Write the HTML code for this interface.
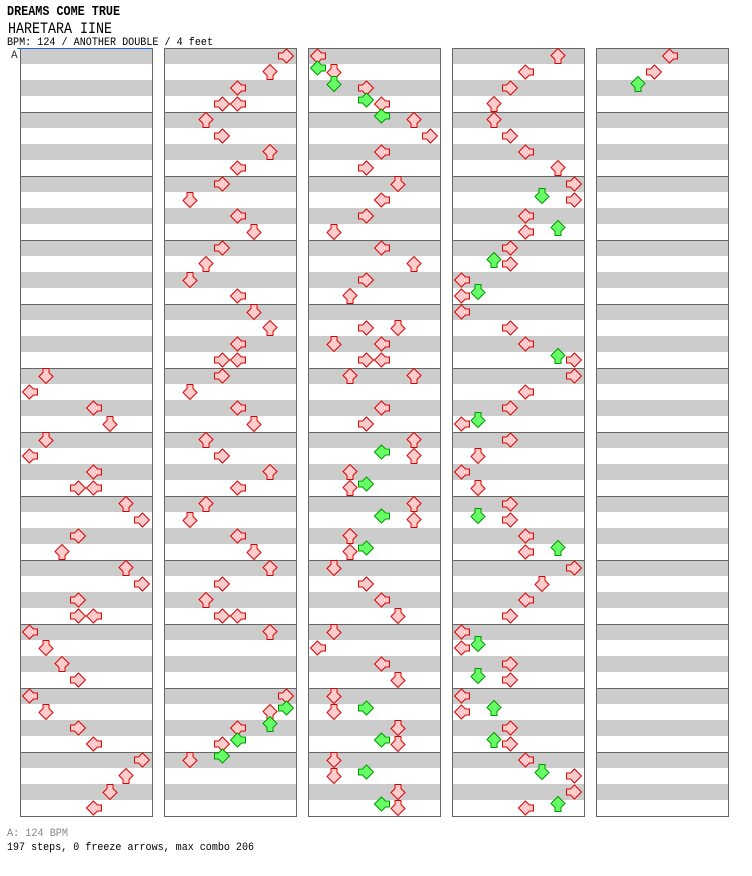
<!DOCTYPE html>
<html>
<head>
<meta charset="utf-8">
<style>
html,body{margin:0;padding:0;background:#fff;}
svg{display:block;}
text{font-family:"Liberation Mono","DejaVu Sans Mono",monospace;}
</style>
</head>
<body>
<svg width="752" height="876" viewBox="0 0 752 876" xmlns="http://www.w3.org/2000/svg">
<defs>
<path id="l" d="M0.5 8L7.5 1L11.5 5H15.5V11H11.5L7.5 15Z"/>
<path id="r" d="M15.5 8L8.5 1L4.5 5H0.5V11H4.5L8.5 15Z"/>
<path id="u" d="M8 0.5L1 7.5L5 11.5V15.5H11V11.5L15 7.5Z"/>
<path id="d" d="M8 15.5L1 8.5L5 4.5V0.5H11V4.5L15 8.5Z"/>
<g id="col">
<rect x="0" y="48" width="133" height="769" fill="#fff"/>
<g fill="#cccccc">
<rect x="1" y="48" width="131" height="16"/><rect x="1" y="80" width="131" height="16"/>
<rect x="1" y="112" width="131" height="16"/><rect x="1" y="144" width="131" height="16"/>
<rect x="1" y="176" width="131" height="16"/><rect x="1" y="208" width="131" height="16"/>
<rect x="1" y="240" width="131" height="16"/><rect x="1" y="272" width="131" height="16"/>
<rect x="1" y="304" width="131" height="16"/><rect x="1" y="336" width="131" height="16"/>
<rect x="1" y="368" width="131" height="16"/><rect x="1" y="400" width="131" height="16"/>
<rect x="1" y="432" width="131" height="16"/><rect x="1" y="464" width="131" height="16"/>
<rect x="1" y="496" width="131" height="16"/><rect x="1" y="528" width="131" height="16"/>
<rect x="1" y="560" width="131" height="16"/><rect x="1" y="592" width="131" height="16"/>
<rect x="1" y="624" width="131" height="16"/><rect x="1" y="656" width="131" height="16"/>
<rect x="1" y="688" width="131" height="16"/><rect x="1" y="720" width="131" height="16"/>
<rect x="1" y="752" width="131" height="16"/><rect x="1" y="784" width="131" height="16"/>
</g>
<g fill="#666666">
<rect x="0" y="48" width="133" height="1"/><rect x="0" y="112" width="133" height="1"/>
<rect x="0" y="176" width="133" height="1"/><rect x="0" y="240" width="133" height="1"/>
<rect x="0" y="304" width="133" height="1"/><rect x="0" y="368" width="133" height="1"/>
<rect x="0" y="432" width="133" height="1"/><rect x="0" y="496" width="133" height="1"/>
<rect x="0" y="560" width="133" height="1"/><rect x="0" y="624" width="133" height="1"/>
<rect x="0" y="688" width="133" height="1"/><rect x="0" y="752" width="133" height="1"/>
<rect x="0" y="816" width="133" height="1"/>
<rect x="0" y="48" width="1" height="769"/><rect x="132" y="48" width="1" height="769"/>
</g>
</g>
</defs>

<text x="7" y="15" font-size="14" font-weight="bold" textLength="113" lengthAdjust="spacingAndGlyphs" fill="#000">DREAMS COME TRUE</text>
<text x="8" y="33" font-size="16" textLength="104" lengthAdjust="spacingAndGlyphs" fill="#000">HARETARA IINE</text>
<text x="7" y="45" font-size="11" textLength="206" lengthAdjust="spacingAndGlyphs" fill="#000">BPM: 124 / ANOTHER DOUBLE / 4 feet</text>

<use href="#col" x="20" y="0"/>
<use href="#col" x="164" y="0"/>
<use href="#col" x="308" y="0"/>
<use href="#col" x="452" y="0"/>
<use href="#col" x="596" y="0"/>

<rect x="17" y="48" width="136" height="1" fill="#2266cc"/>
<text x="11" y="58" font-size="11" fill="#333">A</text>

<g fill="#ffcccc" stroke="#e00000" stroke-width="1">
<!-- col 0 -->
<use href="#d" x="38" y="368"/><use href="#l" x="22" y="384"/><use href="#l" x="86" y="400"/><use href="#d" x="102" y="416"/>
<use href="#d" x="38" y="432"/><use href="#l" x="22" y="448"/><use href="#l" x="86" y="464"/><use href="#r" x="70" y="480"/><use href="#l" x="86" y="480"/>
<use href="#u" x="118" y="496"/><use href="#r" x="134" y="512"/><use href="#r" x="70" y="528"/><use href="#u" x="54" y="544"/>
<use href="#u" x="118" y="560"/><use href="#r" x="134" y="576"/><use href="#r" x="70" y="592"/><use href="#r" x="70" y="608"/><use href="#l" x="86" y="608"/>
<use href="#l" x="22" y="624"/><use href="#d" x="38" y="640"/><use href="#u" x="54" y="656"/><use href="#r" x="70" y="672"/>
<use href="#l" x="22" y="688"/><use href="#d" x="38" y="704"/><use href="#r" x="70" y="720"/><use href="#l" x="86" y="736"/>
<use href="#r" x="134" y="752"/><use href="#u" x="118" y="768"/><use href="#d" x="102" y="784"/><use href="#l" x="86" y="800"/>
<!-- col 1 -->
<use href="#r" x="278" y="48"/><use href="#u" x="262" y="64"/><use href="#l" x="230" y="80"/><use href="#r" x="214" y="96"/><use href="#l" x="230" y="96"/>
<use href="#u" x="198" y="112"/><use href="#r" x="214" y="128"/><use href="#u" x="262" y="144"/><use href="#l" x="230" y="160"/>
<use href="#r" x="214" y="176"/><use href="#d" x="182" y="192"/><use href="#l" x="230" y="208"/><use href="#d" x="246" y="224"/>
<use href="#r" x="214" y="240"/><use href="#u" x="198" y="256"/><use href="#d" x="182" y="272"/><use href="#l" x="230" y="288"/>
<use href="#d" x="246" y="304"/><use href="#u" x="262" y="320"/><use href="#l" x="230" y="336"/><use href="#r" x="214" y="352"/><use href="#l" x="230" y="352"/>
<use href="#r" x="214" y="368"/><use href="#d" x="182" y="384"/><use href="#l" x="230" y="400"/><use href="#d" x="246" y="416"/>
<use href="#u" x="198" y="432"/><use href="#r" x="214" y="448"/><use href="#u" x="262" y="464"/><use href="#l" x="230" y="480"/>
<use href="#u" x="198" y="496"/><use href="#d" x="182" y="512"/><use href="#l" x="230" y="528"/><use href="#d" x="246" y="544"/>
<use href="#u" x="262" y="560"/><use href="#r" x="214" y="576"/><use href="#u" x="198" y="592"/><use href="#r" x="214" y="608"/><use href="#l" x="230" y="608"/>
<use href="#u" x="262" y="624"/>
<use href="#r" x="278" y="688"/><use href="#u" x="262" y="704"/><use href="#l" x="230" y="720"/><use href="#r" x="214" y="736"/>
<use href="#d" x="182" y="752"/>
<!-- col 2 -->
<use href="#l" x="310" y="48"/><use href="#d" x="326" y="64"/><use href="#r" x="358" y="80"/><use href="#l" x="374" y="96"/>
<use href="#u" x="406" y="112"/><use href="#r" x="422" y="128"/><use href="#l" x="374" y="144"/><use href="#r" x="358" y="160"/>
<use href="#d" x="390" y="176"/><use href="#l" x="374" y="192"/><use href="#r" x="358" y="208"/><use href="#d" x="326" y="224"/>
<use href="#l" x="374" y="240"/><use href="#u" x="406" y="256"/><use href="#r" x="358" y="272"/><use href="#u" x="342" y="288"/>
<use href="#r" x="358" y="320"/><use href="#d" x="390" y="320"/><use href="#d" x="326" y="336"/><use href="#l" x="374" y="336"/><use href="#r" x="358" y="352"/><use href="#l" x="374" y="352"/>
<use href="#u" x="342" y="368"/><use href="#u" x="406" y="368"/><use href="#l" x="374" y="400"/><use href="#r" x="358" y="416"/>
<use href="#u" x="406" y="432"/><use href="#u" x="406" y="448"/><use href="#u" x="342" y="464"/><use href="#u" x="342" y="480"/>
<use href="#u" x="406" y="496"/><use href="#u" x="406" y="512"/><use href="#u" x="342" y="528"/><use href="#u" x="342" y="544"/>
<use href="#d" x="326" y="560"/><use href="#r" x="358" y="576"/><use href="#l" x="374" y="592"/><use href="#d" x="390" y="608"/>
<use href="#d" x="326" y="624"/><use href="#l" x="310" y="640"/><use href="#l" x="374" y="656"/><use href="#d" x="390" y="672"/>
<use href="#d" x="326" y="688"/><use href="#d" x="326" y="704"/><use href="#d" x="390" y="720"/><use href="#d" x="390" y="736"/>
<use href="#d" x="326" y="752"/><use href="#d" x="326" y="768"/><use href="#d" x="390" y="784"/><use href="#d" x="390" y="800"/>
<!-- col 3 -->
<use href="#u" x="550" y="48"/><use href="#l" x="518" y="64"/><use href="#r" x="502" y="80"/><use href="#u" x="486" y="96"/>
<use href="#u" x="486" y="112"/><use href="#r" x="502" y="128"/><use href="#l" x="518" y="144"/><use href="#u" x="550" y="160"/>
<use href="#r" x="566" y="176"/><use href="#r" x="566" y="192"/><use href="#l" x="518" y="208"/><use href="#l" x="518" y="224"/>
<use href="#r" x="502" y="240"/><use href="#r" x="502" y="256"/><use href="#l" x="454" y="272"/><use href="#l" x="454" y="288"/>
<use href="#l" x="454" y="304"/><use href="#r" x="502" y="320"/><use href="#l" x="518" y="336"/><use href="#r" x="566" y="352"/>
<use href="#r" x="566" y="368"/><use href="#l" x="518" y="384"/><use href="#r" x="502" y="400"/><use href="#l" x="454" y="416"/>
<use href="#r" x="502" y="432"/><use href="#d" x="470" y="448"/><use href="#l" x="454" y="464"/><use href="#d" x="470" y="480"/>
<use href="#r" x="502" y="496"/><use href="#r" x="502" y="512"/><use href="#l" x="518" y="528"/><use href="#l" x="518" y="544"/>
<use href="#r" x="566" y="560"/><use href="#d" x="534" y="576"/><use href="#l" x="518" y="592"/><use href="#r" x="502" y="608"/>
<use href="#l" x="454" y="624"/><use href="#l" x="454" y="640"/><use href="#r" x="502" y="656"/><use href="#r" x="502" y="672"/>
<use href="#l" x="454" y="688"/><use href="#l" x="454" y="704"/><use href="#r" x="502" y="720"/><use href="#r" x="502" y="736"/>
<use href="#l" x="518" y="752"/><use href="#r" x="566" y="768"/><use href="#r" x="566" y="784"/><use href="#l" x="518" y="800"/>
<!-- col 4 -->
<use href="#l" x="662" y="48"/><use href="#r" x="646" y="64"/>
</g>

<g fill="#66ff66" stroke="#009900" stroke-width="1">
<use href="#r" x="278" y="700"/><use href="#u" x="262" y="716"/><use href="#l" x="230" y="732"/><use href="#r" x="214" y="748"/>
<use href="#l" x="310" y="60"/><use href="#d" x="326" y="76"/><use href="#r" x="358" y="92"/><use href="#l" x="374" y="108"/>
<use href="#l" x="374" y="444"/><use href="#r" x="358" y="476"/><use href="#l" x="374" y="508"/><use href="#r" x="358" y="540"/>
<use href="#r" x="358" y="700"/><use href="#l" x="374" y="732"/><use href="#r" x="358" y="764"/><use href="#l" x="374" y="796"/>
<use href="#d" x="534" y="188"/><use href="#u" x="550" y="220"/><use href="#u" x="486" y="252"/><use href="#d" x="470" y="284"/>
<use href="#u" x="550" y="348"/><use href="#d" x="470" y="412"/>
<use href="#d" x="470" y="508"/><use href="#u" x="550" y="540"/><use href="#d" x="470" y="636"/><use href="#d" x="470" y="668"/>
<use href="#u" x="486" y="700"/><use href="#u" x="486" y="732"/><use href="#d" x="534" y="764"/><use href="#u" x="550" y="796"/>
<use href="#u" x="630" y="76"/>
</g>

<text x="7" y="836" font-size="11" textLength="61" lengthAdjust="spacingAndGlyphs" fill="#888">A: 124 BPM</text>
<text x="7" y="850" font-size="11" textLength="247" lengthAdjust="spacingAndGlyphs" fill="#000">197 steps, 0 freeze arrows, max combo 206</text>
</svg>
</body>
</html>
